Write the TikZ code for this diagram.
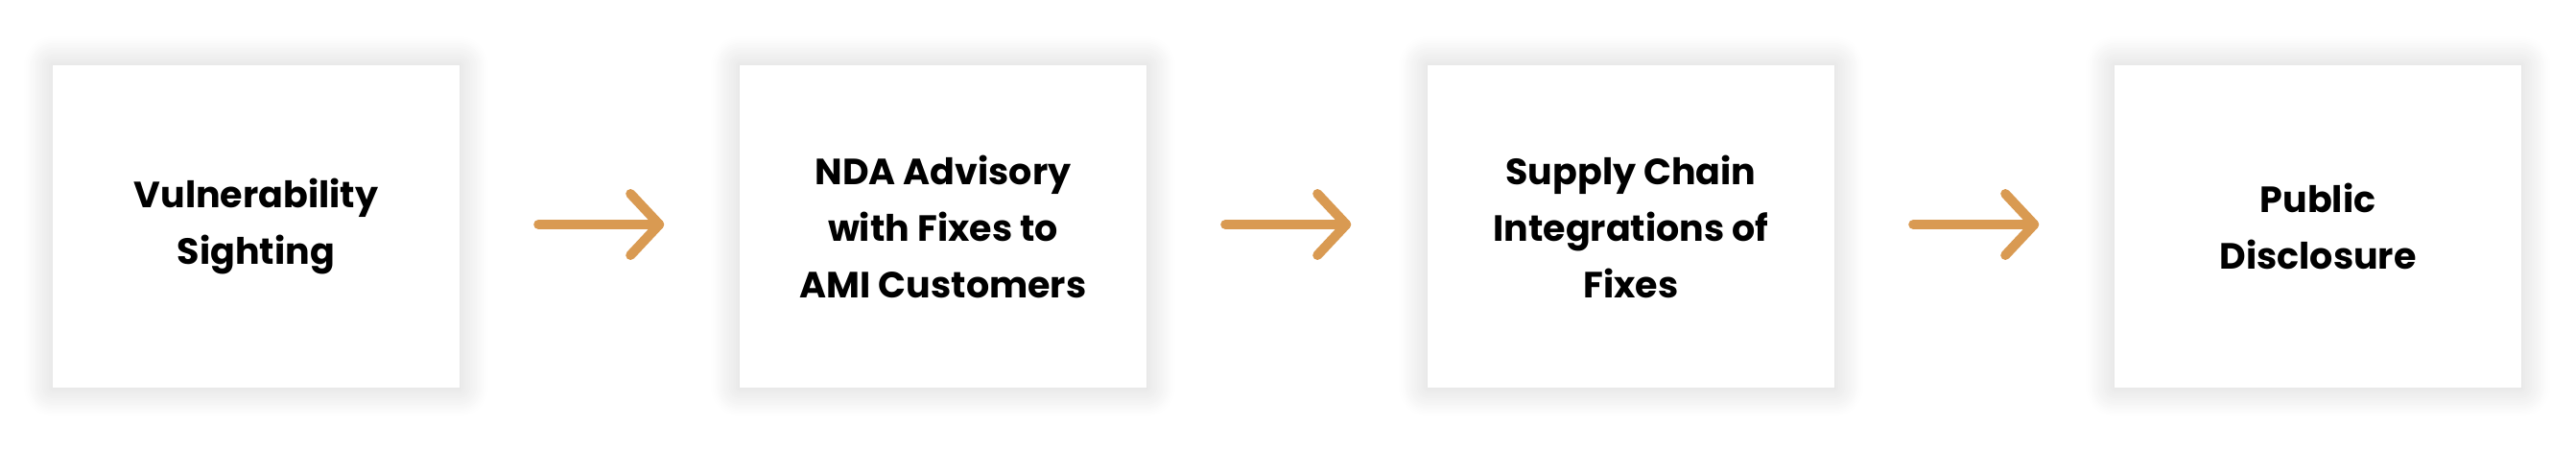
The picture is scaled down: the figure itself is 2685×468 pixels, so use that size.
\documentclass[tikz,border=0pt]{standalone}
\usepackage{fontspec}
\setmainfont{Poppins}
\usetikzlibrary{shadows.blur,calc}
\definecolor{arr}{HTML}{D99A52}
\begin{document}
\begin{tikzpicture}[x=1pt,y=-1pt,
  card/.style={fill=white,minimum width=424pt,minimum height=336pt,inner sep=0pt,
    align=center,font=\fontsize{38}{59}\selectfont\bfseries,
    blur shadow={shadow xshift=0pt,shadow yshift=0pt,shadow blur radius=30pt,shadow blur steps=18,shadow opacity=18}},
  flow/.style={draw=arr,line width=10pt,line cap=round,line join=round}]
\useasboundingbox (0,0) rectangle (2685,468);
\node[card] (a) at (267,236) {Vulnerability\\Sighting};
\node[card] (b) at (983,236) {NDA Advisory\\with Fixes to\\AMI Customers};
\node[card] (c) at (1700,236) {Supply Chain\\Integrations of\\Fixes};
\node[card] (d) at (2416,236) {Public\\Disclosure};
\foreach \s in {a,b,c}{
  \coordinate (s\s) at ($(\s.east)+(82,-2)$);
  \coordinate (e\s) at ($(\s.east)+(208,-2)$);
  \draw[flow] (s\s) -- (e\s);
  \draw[flow] ($(e\s)+(-30,-32)$) -- (e\s) -- ($(e\s)+(-30,32)$);
}
\end{tikzpicture}
\end{document}
